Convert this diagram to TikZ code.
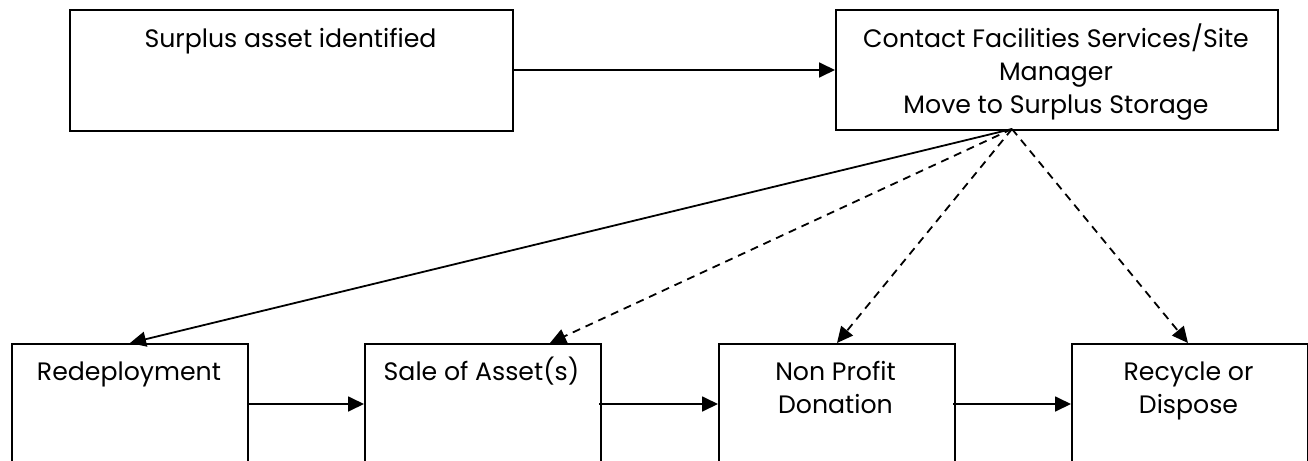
\documentclass[tikz,border=0pt]{standalone}
\usepackage{fontspec}
\setmainfont{Poppins}
\usetikzlibrary{arrows.meta}
\tikzset{
  box/.style={draw=black, line width=1pt, minimum width=#1, inner sep=0pt, anchor=north west},
  txt/.style={font=\fontsize{12.6}{16.3}\selectfont, align=center, inner sep=0pt, anchor=base},
  conn/.style={draw=black, line width=0.9pt, -{Triangle[length=8pt,width=7.5pt]}},
  dconn/.style={conn, dash pattern=on 4pt off 3pt},
}
\begin{document}
\begin{tikzpicture}[x=0.5pt,y=-0.5pt]
\useasboundingbox (0,0) rectangle (1308,461);
\clip (0,0) rectangle (1308,461);
% top boxes
\node[box=221.5pt, minimum height=60.5pt] (tl) at (69,9) {};
\node[box=221pt, minimum height=60pt] (tr) at (835,9) {};
% bottom boxes
\node[box=118pt, minimum height=90pt] (b1) at (11,343) {};
\node[box=118pt, minimum height=90pt] (b2) at (364,343) {};
\node[box=118pt, minimum height=90pt] (b3) at (718,343) {};
\node[box=118pt, minimum height=90pt] (b4) at (1071,343) {};
% texts (base anchor = baseline of last line)
\node[txt] (tlt) at (290.5,47) {Surplus asset identified};
\node[txt] (trt) at (1056,113) {Contact Facilities Services/Site\\Manager\\Move to Surplus Storage};
\node[txt] (b1t) at (129,380) {Redeployment};
\node[txt] (b2t) at (481.5,380) {Sale of Asset(s)};
\node[txt] (b3t) at (835.5,413) {Non Profit\\Donation};
\node[txt] (b4t) at (1188.5,413) {Recycle or\\Dispose};
% connector anchor points
\coordinate (src) at (1012,129);
\coordinate (t1) at (130,343);
\coordinate (t2) at (550,343);
\coordinate (t3) at (837,343);
\coordinate (t4) at (1188,343);
\coordinate (a0) at (512,70);
\coordinate (a1) at (247,404);
\coordinate (a2) at (599,404);
\coordinate (a3) at (953,404);
% connectors
\draw[conn] (a0) -- (a0 -| tr.west);
\draw[conn] (a1) -- (a1 -| b2.west);
\draw[conn] (a2) -- (a2 -| b3.west);
\draw[conn] (a3) -- (a3 -| b4.west);
\draw[conn] (src) -- (t1);
\draw[dconn] (src) -- (t2);
\draw[dconn] (src) -- (t3);
\draw[dconn] (src) -- (t4);
\end{tikzpicture}
\end{document}
